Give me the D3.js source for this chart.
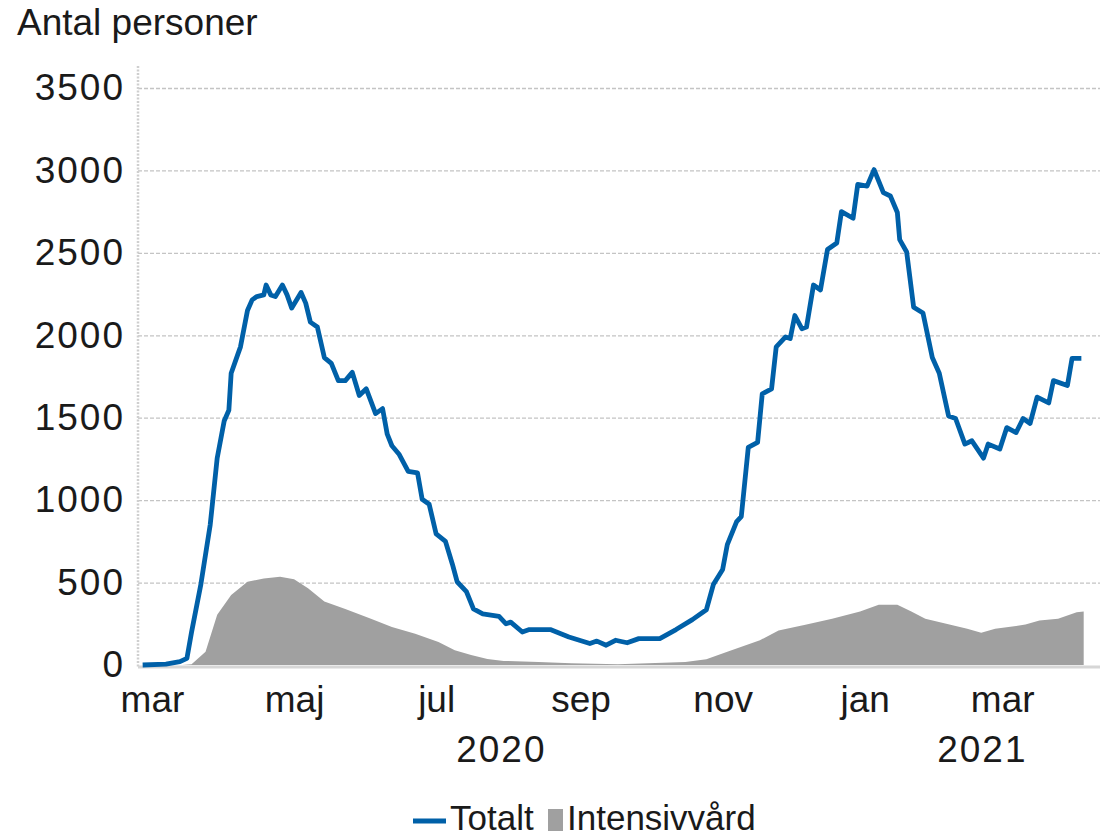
<!DOCTYPE html>
<html><head><meta charset="utf-8">
<script src="https://cdn.jsdelivr.net/npm/d3@7"></script>
<style>
html,body{margin:0;padding:0;background:#fff;}
svg text{font-family:"Liberation Sans",Arial,sans-serif;fill:#1a1a1a;}
</style></head>
<body><svg id="c" width="1102" height="838"></svg>
<script>
// ---- data ----
const totDates = ["2020-02-26","2020-03-07","2020-03-13","2020-03-16","2020-03-18","2020-03-22","2020-03-26","2020-03-29","2020-04-01","2020-04-03","2020-04-04","2020-04-07","2020-04-08","2020-04-11","2020-04-13","2020-04-15","2020-04-18","2020-04-19","2020-04-21","2020-04-23","2020-04-26","2020-04-28","2020-04-30","2020-05-04","2020-05-06","2020-05-08","2020-05-11","2020-05-14","2020-05-17","2020-05-20","2020-05-23","2020-05-26","2020-05-29","2020-06-01","2020-06-05","2020-06-08","2020-06-10","2020-06-12","2020-06-15","2020-06-19","2020-06-23","2020-06-25","2020-06-28","2020-07-01","2020-07-05","2020-07-08","2020-07-10","2020-07-14","2020-07-17","2020-07-21","2020-07-28","2020-07-31","2020-08-02","2020-08-07","2020-08-10","2020-08-19","2020-08-27","2020-09-05","2020-09-08","2020-09-12","2020-09-16","2020-09-21","2020-09-26","2020-10-05","2020-10-12","2020-10-19","2020-10-25","2020-10-28","2020-11-01","2020-11-03","2020-11-07","2020-11-09","2020-11-12","2020-11-16","2020-11-18","2020-11-22","2020-11-24","2020-11-28","2020-11-30","2020-12-02","2020-12-05","2020-12-07","2020-12-10","2020-12-13","2020-12-16","2020-12-20","2020-12-22","2020-12-27","2020-12-29","2021-01-02","2021-01-05","2021-01-09","2021-01-12","2021-01-15","2021-01-16","2021-01-19","2021-01-22","2021-01-26","2021-01-30","2021-02-02","2021-02-06","2021-02-09","2021-02-13","2021-02-16","2021-02-21","2021-02-23","2021-02-28","2021-03-03","2021-03-07","2021-03-10","2021-03-13","2021-03-16","2021-03-21","2021-03-23","2021-03-29","2021-03-31","2021-04-04"];
const totValues = [0,5,20,40,200,490,850,1255,1480,1545,1770,1890,1930,2150,2215,2235,2245,2305,2245,2235,2305,2245,2165,2260,2195,2080,2050,1865,1830,1725,1725,1775,1635,1675,1525,1555,1400,1330,1280,1175,1165,1005,975,795,750,610,505,445,340,310,295,250,260,200,215,215,170,130,145,120,150,135,160,160,215,275,335,488,580,730,870,900,1320,1350,1645,1675,1930,1990,1980,2120,2040,2050,2305,2275,2520,2560,2750,2710,2915,2905,3005,2865,2845,2745,2580,2505,2170,2135,1865,1770,1510,1495,1340,1360,1255,1340,1310,1440,1410,1495,1465,1625,1590,1725,1695,1860,1860];

const icuDates = ["2020-02-26","2020-03-14","2020-03-18","2020-03-24","2020-03-29","2020-04-04","2020-04-11","2020-04-18","2020-04-25","2020-05-01","2020-05-07","2020-05-14","2020-05-23","2020-06-03","2020-06-12","2020-06-22","2020-07-02","2020-07-09","2020-07-16","2020-07-23","2020-07-30","2020-08-14","2020-08-28","2020-09-17","2020-10-16","2020-10-25","2020-11-03","2020-11-17","2020-11-25","2020-12-07","2020-12-18","2020-12-30","2021-01-07","2021-01-15","2021-01-21","2021-01-27","2021-02-05","2021-02-14","2021-02-20","2021-02-26","2021-03-11","2021-03-17","2021-03-25","2021-04-02","2021-04-05"];
const icuValues = [0,0,5,80,305,425,505,525,535,520,465,385,340,280,230,190,140,90,60,37,25,18,10,5,18,35,80,150,210,245,280,325,365,365,325,280,250,220,195,220,245,270,280,320,325];

const yTicks = [0,500,1000,1500,2000,2500,3000,3500];
const monthTickDates = ["2020-03-01","2020-05-01","2020-07-01","2020-09-01","2020-11-01","2021-01-01","2021-03-01"];
const monthLabels = ["mar","maj","jul","sep","nov","jan","mar"];
const yearLabels = ["2020","2021"];
const yearStarts = ["2020-02-24","2021-01-01"];
const xDomain = ["2020-02-24","2021-04-12"];
const seriesNames = ["Totalt","Intensivvård"];
const yTitle = "Antal personer";

// ---- layout ----
const parse = d3.utcParse("%Y-%m-%d");
const L = 138, R = 1100, T = 88, B = 665;
const svg = d3.select("#c");
const x = d3.scaleUtc().domain(xDomain.map(parse)).range([L, R]);
const y = d3.scaleLinear().domain([0, 3500]).range([B, T]);

const tot = totDates.map((d,i)=>({d:parse(d), v:totValues[i]}));
const icu = icuDates.map((d,i)=>({d:parse(d), v:icuValues[i]}));

// gridlines
const grid = svg.append("g").attr("transform",`translate(${L},0)`)
  .call(d3.axisLeft(y).tickValues(yTicks.filter(v=>v>0)).tickSize(-(R-L)).tickFormat(""));
grid.select(".domain").remove();
grid.selectAll("line").attr("stroke","#c4c4c4").attr("stroke-width",1.3).attr("stroke-dasharray","4,2");

// left axis line (dotted)
svg.append("line").attr("x1",L).attr("x2",L).attr("y1",66).attr("y2",B+2)
  .attr("stroke","#cfcfcf").attr("stroke-width",2.5).attr("stroke-dasharray","2,1.5");

// area
svg.append("path").datum(icu)
  .attr("d", d3.area().x(p=>x(p.d)).y0(y(0)).y1(p=>y(p.v)))
  .attr("fill","#a0a0a0");

// bottom axis line
svg.append("line").attr("x1",L).attr("x2",R).attr("y1",B+2).attr("y2",B+2)
  .attr("stroke","#d6d6d6").attr("stroke-width",3);

// line
svg.append("path").datum(tot)
  .attr("d", d3.line().x(p=>x(p.d)).y(p=>y(p.v)))
  .attr("fill","none").attr("stroke","#0060a8").attr("stroke-width",4.8)
  .attr("stroke-linejoin","round").attr("stroke-linecap","butt");

// y axis labels
const ya = svg.append("g").attr("transform",`translate(${L},0)`)
  .call(d3.axisLeft(y).tickValues(yTicks).tickSize(0).tickPadding(13).tickFormat(d3.format("d")));
ya.select(".domain").remove();
ya.selectAll("text").attr("font-size",37).attr("letter-spacing","2px")
  .attr("font-family","Liberation Sans, Arial, sans-serif").attr("fill","#1a1a1a");

// x axis month labels
const xa = svg.append("g").attr("transform",`translate(0,${B})`)
  .call(d3.axisBottom(x).tickValues(monthTickDates.map(parse)).tickSize(0).tickPadding(0)
    .tickFormat((d,i)=>monthLabels[i]));
xa.select(".domain").remove();
xa.selectAll("text").attr("font-size",37).attr("dy",null).attr("y",47)
  .attr("font-family","Liberation Sans, Arial, sans-serif").attr("fill","#1a1a1a");

// year labels
const yearEnds = [yearStarts[1], xDomain[1]];
svg.append("g").selectAll("text").data(yearLabels).join("text")
  .attr("x",(d,i)=>(x(parse(yearStarts[i]))+x(parse(yearEnds[i])))/2)
  .attr("y",762).attr("text-anchor","middle").attr("font-size",37).attr("letter-spacing","2px")
  .text(d=>d);

// title
svg.append("text").attr("x",17).attr("y",35).attr("font-size",37).text(yTitle);

// legend
const lg = svg.append("g");
lg.append("line").attr("x1",413).attr("x2",446).attr("y1",821).attr("y2",821)
  .attr("stroke","#0060a8").attr("stroke-width",5);
lg.append("text").attr("x",450).attr("y",830).attr("font-size",35).text(seriesNames[0]);
lg.append("rect").attr("x",548).attr("y",809).attr("width",15).attr("height",22).attr("fill","#a0a0a0");
lg.append("text").attr("x",567).attr("y",830).attr("font-size",35).text(seriesNames[1]);
</script></body></html>
